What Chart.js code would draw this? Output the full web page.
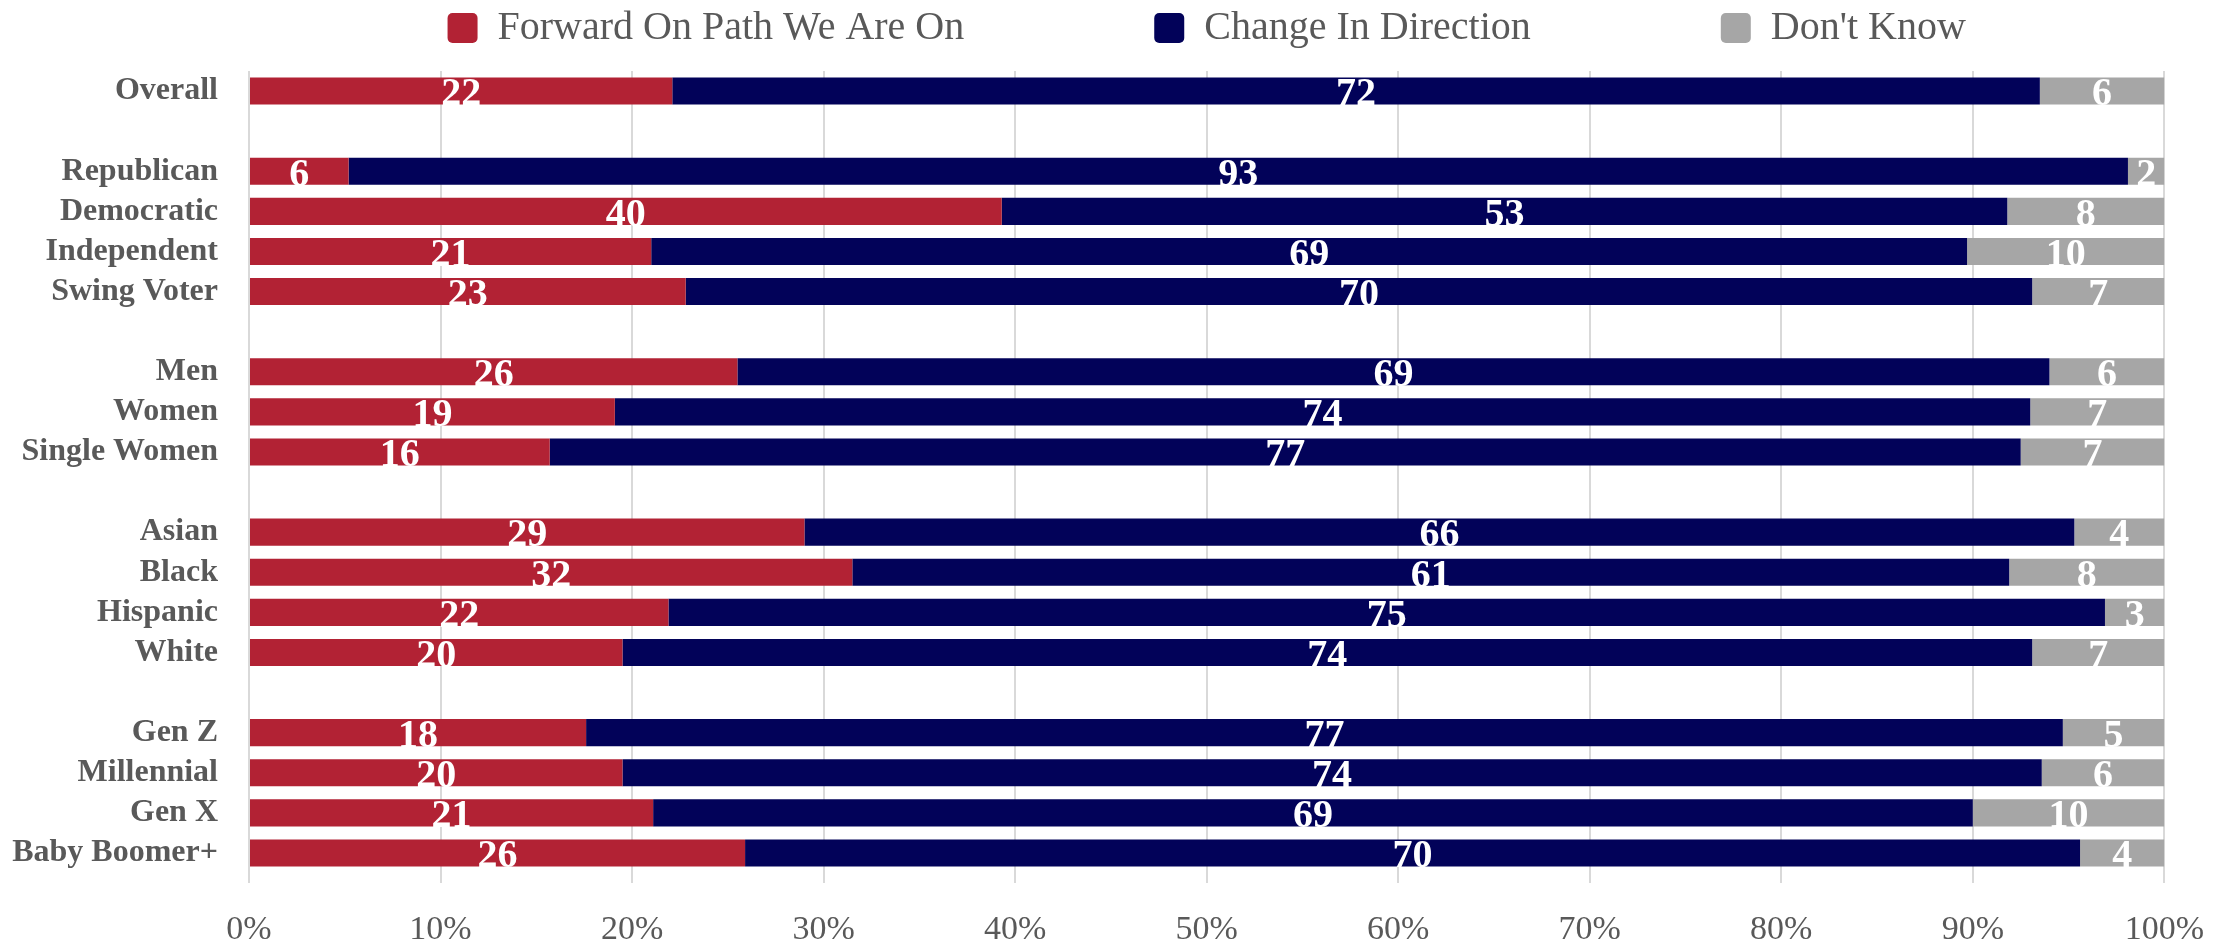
<!DOCTYPE html>
<html>
<head>
<meta charset="utf-8">
<script src="https://cdn.jsdelivr.net/npm/chart.js@4.4.1/dist/chart.umd.min.js"></script>
<style>
  html, body { margin: 0; padding: 0; background: #ffffff; }
  #wrap { width: 2234px; height: 945px; }
</style>
</head>
<body>
<div id="wrap"><canvas id="c" width="2234" height="945"></canvas></div>
<script>
// ---- data ----
const categories = ['Overall', '', 'Republican', 'Democratic', 'Independent', 'Swing Voter', '',
  'Men', 'Women', 'Single Women', '', 'Asian', 'Black', 'Hispanic', 'White', '',
  'Gen Z', 'Millennial', 'Gen X', 'Baby Boomer+'];

const seriesNames = ['Forward On Path We Are On', 'Change In Direction', "Don't Know"];

// bar lengths (percent of respondents)
const forwardValues  = [22.1, null, 5.2, 39.3, 21.0, 22.8, null, 25.5, 19.1, 15.7, null, 29.0, 31.5, 21.9, 19.5, null, 17.6, 19.5, 21.1, 25.9];
const changeValues   = [71.4, null, 92.9, 52.5, 68.7, 70.3, null, 68.5, 73.9, 76.8, null, 66.3, 60.4, 75.0, 73.6, null, 77.1, 74.1, 68.9, 69.7];
const dontKnowValues = [6.5, null, 1.9, 8.2, 10.3, 6.9, null, 6.0, 7.0, 7.5, null, 4.7, 8.1, 3.1, 6.9, null, 5.3, 6.4, 10.0, 4.4];

// rounded numbers printed on the bars
const forwardLabels  = [22, null, 6, 40, 21, 23, null, 26, 19, 16, null, 29, 32, 22, 20, null, 18, 20, 21, 26];
const changeLabels   = [72, null, 93, 53, 69, 70, null, 69, 74, 77, null, 66, 61, 75, 74, null, 77, 74, 69, 70];
const dontKnowLabels = [6, null, 2, 8, 10, 7, null, 6, 7, 7, null, 4, 8, 3, 7, null, 5, 6, 10, 4];

const xTickValues = [0, 10, 20, 30, 40, 50, 60, 70, 80, 90, 100];

// ---- styling ----
const COLORS = ['#B22234', '#020259', '#A6A6A6'];
const TEXT = '#595959';
const GRID = '#D9D9D9';

const barLabelSets = [forwardLabels, changeLabels, dontKnowLabels];

const valueLabelPlugin = {
  id: 'valueLabels',
  afterDatasetsDraw(chart) {
    const ctx = chart.ctx;
    ctx.save();
    ctx.font = 'bold 40px "Liberation Serif"';
    ctx.fillStyle = '#ffffff';
    ctx.textAlign = 'center';
    ctx.textBaseline = 'middle';
    chart.data.datasets.forEach((ds, di) => {
      const meta = chart.getDatasetMeta(di);
      const labs = barLabelSets[di];
      meta.data.forEach((el, i) => {
        const t = labs[i];
        if (t === null || t === undefined) return;
        const p = el.getProps(['x', 'base', 'y'], true);
        ctx.fillText(String(t), (p.x + p.base) / 2, p.y + 4);
      });
    });
    ctx.restore();
  }
};

new Chart(document.getElementById('c'), {
  type: 'bar',
  data: {
    labels: categories,
    datasets: [
      { label: seriesNames[0], data: forwardValues, backgroundColor: COLORS[0] },
      { label: seriesNames[1], data: changeValues, backgroundColor: COLORS[1] },
      { label: seriesNames[2], data: dontKnowValues, backgroundColor: COLORS[2] }
    ]
  },
  options: {
    indexAxis: 'y',
    responsive: false,
    animation: false,
    devicePixelRatio: 1,
    datasets: {
      bar: { categoryPercentage: 1.0, barPercentage: 0.675, borderWidth: 0 }
    },
    layout: { padding: { left: 0, right: 64, top: -182, bottom: 0 } },
    plugins: {
      tooltip: { enabled: false },
      legend: {
        display: true,
        position: 'top',
        fullSize: false,
        labels: {
          color: TEXT,
          font: { family: '"Liberation Serif"', size: 40 },
          boxWidth: 30,
          boxHeight: 30,
          useBorderRadius: true,
          borderRadius: 5,
          padding: 190
        }
      },
      title: {
        display: true,
        text: '',
        position: 'top',
        weight: 0,
        padding: 0,
        font: { size: 13, lineHeight: 1 }
      }
    },
    scales: {
      x: {
        stacked: true,
        min: 0,
        max: 100,
        afterBuildTicks(scale) { scale.ticks = xTickValues.map(v => ({ value: v })); },
        afterFit(scale) { scale.height = 72; },
        ticks: {
          color: TEXT,
          font: { family: '"Liberation Serif"', size: 34, lineHeight: 1 },
          padding: 30,
          callback: (v) => v + '%'
        },
        grid: { color: GRID, lineWidth: 2, tickLength: 10, drawTicks: true },
        border: { display: false }
      },
      y: {
        stacked: true,
        afterFit(scale) { scale.width = 249; },
        ticks: {
          color: TEXT,
          font: { family: '"Liberation Serif"', size: 32, weight: 'bold' },
          padding: 31,
          autoSkip: false
        },
        grid: { display: false, drawTicks: false },
        border: { display: false }
      }
    }
  },
  plugins: [valueLabelPlugin]
});
</script>
</body>
</html>
